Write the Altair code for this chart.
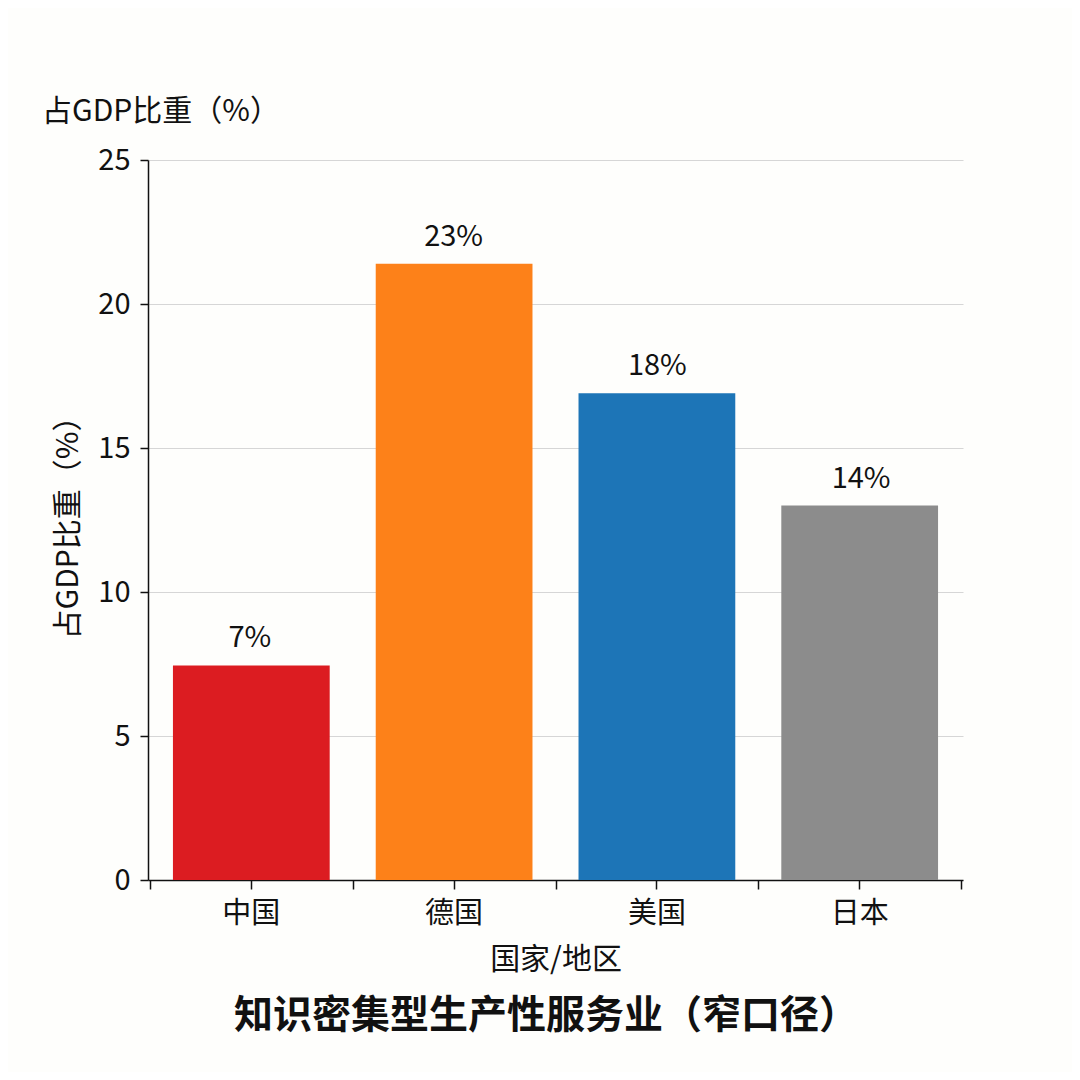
import altair as alt
import pandas as pd

categories = ["中国", "德国", "美国", "日本"]
values = [7.45, 21.4, 16.9, 13.0]
value_labels = ["7%", "23%", "18%", "14%"]
colors = ["#dc1c21", "#fd8119", "#1d75b7", "#8c8c8c"]
y_ticks = [0, 5, 10, 15, 20, 25]

title_text = "知识密集型生产性服务业（窄口径）"
y_title = "占GDP比重（%）"
x_title = "国家/地区"

FONT = "Noto Sans CJK SC"

df = pd.DataFrame({"country": categories, "value": values,
                   "label": value_labels, "color": colors})

W, H = 815, 720

yscale = alt.Scale(domain=[0, 25], nice=False)
yaxis = alt.Axis(title=y_title, values=y_ticks, grid=True, gridColor="#d6d6d6",
                 gridWidth=1, domainColor="#111111", domainWidth=1.5,
                 ticks=True, tickColor="#111111", tickSize=8, tickWidth=1.5,
                 labelPadding=10, labelFontSize=29, labelFont=FONT,
                 labelColor="#111111", titleFont=FONT, titleFontSize=30,
                 titleFontWeight="normal", titleColor="#111111", titlePadding=14)


def bar_scale():
    return alt.Scale(domain=categories, paddingInner=0.227, paddingOuter=0.123)


def step_scale():
    return alt.Scale(domain=categories, paddingInner=0, paddingOuter=0.01)


base = alt.Chart(df)

bars = base.mark_bar().encode(
    x=alt.X("country:N", sort=categories, scale=bar_scale(),
            axis=alt.Axis(title=x_title, orient="bottom", labelAngle=0,
                          domainColor="#111111", domainWidth=1.5, ticks=False,
                          labelPadding=19, labelFontSize=29, labelFont=FONT,
                          labelColor="#111111", titleFont=FONT, titleFontSize=30,
                          titleFontWeight="normal", titleColor="#111111",
                          titlePadding=16)),
    y=alt.Y("value:Q", scale=yscale, axis=yaxis),
    color=alt.Color("color:N", scale=None, legend=None),
)

texts = base.mark_text(baseline="bottom", dy=-12, font=FONT, fontSize=29,
                       color="#111111").encode(
    x=alt.X("country:N", sort=categories, scale=bar_scale(), axis=None),
    y=alt.Y("value:Q", scale=yscale, axis=yaxis),
    text="label:N",
)

# ticks under the centre of each category
center_ticks = base.mark_text(opacity=0).encode(
    x=alt.X("country:N", sort=categories, scale=step_scale(),
            axis=alt.Axis(title=None, orient="bottom", labels=False, domain=False,
                          ticks=True, tickBand="center", tickColor="#111111",
                          tickSize=9, tickWidth=1.5)),
    y=alt.Y("value:Q", scale=yscale, axis=yaxis),
    text="label:N",
)

# ticks on the boundaries between categories
edge_ticks = base.mark_text(opacity=0).encode(
    x=alt.X("country:N", sort=categories, scale=step_scale(),
            axis=alt.Axis(title=None, orient="bottom", labels=False, domain=False,
                          ticks=True, tickBand="extent", tickColor="#111111",
                          tickSize=9, tickWidth=1.5)),
    y=alt.Y("value:Q", scale=yscale, axis=yaxis),
    text="label:N",
)

top_label = alt.Chart(pd.DataFrame({"t": [y_title]})).mark_text(
    align="left", baseline="middle", font=FONT, fontSize=30, color="#111111"
).encode(text="t:N", x=alt.value(-106), y=alt.value(-48))

bottom_title = alt.Chart(pd.DataFrame({"t": [title_text]})).mark_text(
    align="center", baseline="middle", font=FONT, fontSize=39, fontWeight="bold",
    color="#111111"
).encode(text="t:N", x=alt.value(398), y=alt.value(856))

chart = alt.layer(bars, texts, center_ticks, edge_ticks, top_label,
                  bottom_title).resolve_scale(x="independent").resolve_axis(
    x="independent").properties(
    width=W, height=H, background="#fefefc",
    autosize=alt.AutoSizeParams(type="none"),
    padding={"left": 140, "top": 152, "right": 109, "bottom": 192},
).configure_view(stroke=None)

chart.save("out.html", embed_options={"renderer": "svg", "actions": False})
